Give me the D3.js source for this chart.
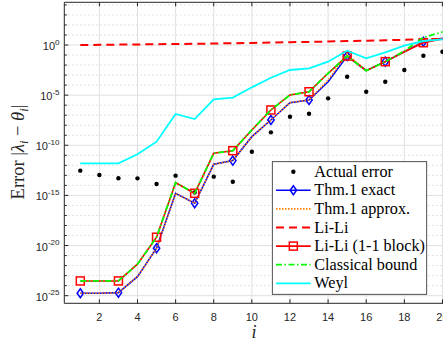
<!DOCTYPE html>
<html><head><meta charset="utf-8">
<script src="https://cdn.jsdelivr.net/npm/d3@7/dist/d3.min.js"></script>
<style>body{margin:0;background:#fff}svg{display:block}</style>
</head><body>
<svg id="c" width="443" height="343"></svg>
<script>
// x positions (index i)
const idx = d3.range(1, 21);
// log10 of error values
const actualErr = [-12.53,-12.96,-13.29,-13.3,-13.86,-13.03,-14.7,-13.13,-13.63,-10.64,-8.71,-7.15,-6.85,-5.32,-3.16,-4.66,-3.66,-2.49,-1.07,-0.67];
const thmExact = [-24.76,-24.76,-24.7,-23.1,-20.27,-14.79,-15.78,-11.9,-11.53,-9.14,-7.48,-5.75,-5.48,-3.66,-1.1,-2.56,-1.66,-0.67,0.33,0.66];
const thmApprox = [-24.76,-24.76,-24.7,-23.1,-20.27,-14.79,-15.78,-11.9,-11.53,-9.14,-7.48,-5.75,-5.48,-3.5,-0.9,-2.56,-1.66,-0.67,0.33,0.66];
const liLi = [0,0.02,0.04,0.06,0.08,0.1,0.12,0.15,0.18,0.21,0.24,0.28,0.31,0.35,0.39,0.43,0.47,0.52,0.57,0.62];
const liLi11 = [-23.53,-23.53,-23.53,-21.86,-19.17,-13.73,-14.79,-10.8,-10.54,-8.47,-6.48,-4.98,-4.66,-2.82,-1.1,-2.56,-1.66,-0.67,0.23,0.6];
const classical = [-23.53,-23.53,-23.53,-21.86,-19.17,-13.73,-14.79,-10.8,-10.54,-8.47,-6.48,-4.98,-4.66,-2.82,-1.1,-2.56,-1.66,-0.6,0.75,1.3];
const weyl = [-11.8,-11.8,-11.8,-10.9,-9.64,-6.88,-7.38,-5.41,-5.25,-4.22,-3.26,-2.49,-2.33,-1.66,-0.57,-1.33,-0.73,-0.07,0.4,0.57];
const xTicks = [2,4,6,8,10,12,14,16,18,20];
const yMajorExp = [-25,-20,-15,-10,-5,0];
const yMinorExp = d3.range(-25, 5);
const legendLabels = ["Actual error","Thm.1 exact","Thm.1 approx.","Li-Li","Li-Li (1-1 block)","Classical bound","Weyl"];

const svg = d3.select("#c");
const L = 64.3, R = 446, T = 2.3, B = 303.3;
const x = d3.scaleLinear().domain([0.16, 0.16 + (R - L) / 19.06]).range([L, R]);
const y = d3.scaleLog().domain([Math.pow(10, -25.76), Math.pow(10, 4.26)]).range([B, T]);
const axisCol = "#262626";

svg.append("defs").append("clipPath").attr("id","clip")
  .append("rect").attr("x",L).attr("y",T).attr("width",R-L).attr("height",B-T);

// grids
const g = svg.append("g");
g.selectAll(".ymin").data(yMinorExp.filter(e => e % 5 !== 0)).join("line")
  .attr("x1",L).attr("x2",R).attr("y1",e=>y(Math.pow(10,e))).attr("y2",e=>y(Math.pow(10,e)))
  .attr("stroke","#c8c8c8").attr("stroke-width",1).attr("stroke-dasharray","1,3");
g.selectAll(".ymaj").data(yMajorExp).join("line")
  .attr("x1",L).attr("x2",R).attr("y1",e=>y(Math.pow(10,e))).attr("y2",e=>y(Math.pow(10,e)))
  .attr("stroke","#e0e0e0").attr("stroke-width",1);
g.selectAll(".xg").data(xTicks).join("line")
  .attr("x1",d=>x(d)).attr("x2",d=>x(d)).attr("y1",T).attr("y2",B)
  .attr("stroke","#e0e0e0").attr("stroke-width",1);

// data
const plot = svg.append("g").attr("clip-path","url(#clip)");
const line = d3.line().x((d,i)=>x(idx[i])).y(d=>y(Math.pow(10,d)));

plot.selectAll(".dot").data(actualErr).join("circle")
  .attr("cx",(d,i)=>x(idx[i])).attr("cy",d=>y(Math.pow(10,d))).attr("r",2.2).attr("fill","#000");

plot.append("path").attr("d",line(thmExact)).attr("fill","none").attr("stroke","#0000ff").attr("stroke-width",1.6);
plot.selectAll(".dia").data(thmExact.map((v,i)=>[idx[i],v]).filter(d=>d[0]%2===1)).join("path")
  .attr("transform",d=>`translate(${x(d[0])},${y(Math.pow(10,d[1]))})`)
  .attr("d","M0,-4.5L3.2,0L0,4.5L-3.2,0Z").attr("fill","none").attr("stroke","#0000ff").attr("stroke-width",1.5);
plot.append("path").attr("d",line(thmApprox)).attr("fill","none").attr("stroke","#ff8000").attr("stroke-width",1.6).attr("stroke-dasharray","1.5,1.5");
plot.append("path").attr("d",line(liLi)).attr("fill","none").attr("stroke","#ff0000").attr("stroke-width",2).attr("stroke-dasharray","8,5");
plot.append("path").attr("d",line(liLi11)).attr("fill","none").attr("stroke","#ff0000").attr("stroke-width",1.6);
plot.selectAll(".sq").data(liLi11.map((v,i)=>[idx[i],v]).filter(d=>d[0]%2===1)).join("rect")
  .attr("x",d=>x(d[0])-4).attr("y",d=>y(Math.pow(10,d[1]))-4).attr("width",8).attr("height",8)
  .attr("fill","none").attr("stroke","#ff0000").attr("stroke-width",1.5);
plot.append("path").attr("d",line(classical)).attr("fill","none").attr("stroke","#00ff00").attr("stroke-width",1.8).attr("stroke-dasharray","6,2.5,1.5,2.5");
plot.append("path").attr("d",line(weyl)).attr("fill","none").attr("stroke","#00ffff").attr("stroke-width",1.8);

// axes box
const ax = svg.append("g");
ax.append("line").attr("x1",L).attr("x2",R).attr("y1",B).attr("y2",B).attr("stroke",axisCol);
ax.append("line").attr("x1",L).attr("x2",R).attr("y1",T).attr("y2",T).attr("stroke",axisCol);
ax.append("line").attr("x1",L).attr("x2",L).attr("y1",T).attr("y2",B).attr("stroke",axisCol);
// x ticks
xTicks.forEach(t=>{
  ax.append("line").attr("x1",x(t)).attr("x2",x(t)).attr("y1",B).attr("y2",B-4).attr("stroke",axisCol);
  ax.append("line").attr("x1",x(t)).attr("x2",x(t)).attr("y1",T).attr("y2",T+4).attr("stroke",axisCol);
  ax.append("text").attr("x",x(t)).attr("y",320.7).attr("text-anchor","middle")
    .attr("font-family","Liberation Sans, Arial, sans-serif").attr("font-size",11).attr("fill",axisCol).text(t);
});
// y ticks
yMinorExp.forEach(e=>{
  const yy = y(Math.pow(10,e));
  const len = e % 5 === 0 ? 4 : 2.5;
  ax.append("line").attr("x1",L).attr("x2",L+len).attr("y1",yy).attr("y2",yy).attr("stroke",axisCol);
});
yMajorExp.forEach(e=>{
  const yy = y(Math.pow(10,e));
  const t = ax.append("text").attr("x",59.5).attr("y",yy+5).attr("text-anchor","end")
    .attr("font-family","Liberation Sans, Arial, sans-serif").attr("font-size",11).attr("fill",axisCol);
  t.append("tspan").text("10");
  t.append("tspan").attr("dy",-5.5).attr("font-size",8).text(String(e));
});

// labels
const serif = "Liberation Serif, Times New Roman, serif";
const yl = svg.append("text").attr("transform","translate(24,152) rotate(-90)").attr("text-anchor","middle")
  .attr("font-family",serif).attr("font-size",18.5).attr("fill",axisCol);
yl.append("tspan").text("Error |");
yl.append("tspan").attr("font-style","italic").text("λ");
yl.append("tspan").attr("font-style","italic").attr("font-size",12.5).attr("dy",3.5).text("i");
yl.append("tspan").attr("dy",-3.5).text(" − ");
yl.append("tspan").attr("font-style","italic").text("θ");
yl.append("tspan").attr("font-style","italic").attr("font-size",12.5).attr("dy",3.5).text("i");
yl.append("tspan").attr("dy",-3.5).text("|");
svg.append("text").attr("x",254).attr("y",338).attr("text-anchor","middle")
  .attr("font-family",serif).attr("font-style","italic").attr("font-size",18).attr("fill",axisCol).text("i");

// legend
const lg = svg.append("g");
lg.append("rect").attr("x",272.3).attr("y",161.7).attr("width",154.4).attr("height",132.6)
  .attr("fill","#fff").attr("stroke",axisCol).attr("stroke-width",0.8);
const rowY = k => 171.7 + k*18.6;
const x1 = 276, x2 = 310.7, xm = (x1+x2)/2;
lg.append("circle").attr("cx",xm).attr("cy",rowY(0)).attr("r",2.2).attr("fill","#000");
lg.append("line").attr("x1",x1).attr("x2",x2).attr("y1",rowY(1)).attr("y2",rowY(1)).attr("stroke","#0000ff").attr("stroke-width",1.6);
lg.append("path").attr("transform",`translate(${xm},${rowY(1)})`).attr("d","M0,-4.5L3.2,0L0,4.5L-3.2,0Z").attr("fill","none").attr("stroke","#0000ff").attr("stroke-width",1.5);
lg.append("line").attr("x1",x1).attr("x2",x2).attr("y1",rowY(2)).attr("y2",rowY(2)).attr("stroke","#ff8000").attr("stroke-width",1.6).attr("stroke-dasharray","1.5,1.5");
lg.append("line").attr("x1",x1).attr("x2",x2).attr("y1",rowY(3)).attr("y2",rowY(3)).attr("stroke","#ff0000").attr("stroke-width",2).attr("stroke-dasharray","8,5");
lg.append("line").attr("x1",x1).attr("x2",x2).attr("y1",rowY(4)).attr("y2",rowY(4)).attr("stroke","#ff0000").attr("stroke-width",1.6);
lg.append("rect").attr("x",xm-4).attr("y",rowY(4)-4).attr("width",8).attr("height",8).attr("fill","none").attr("stroke","#ff0000").attr("stroke-width",1.5);
lg.append("line").attr("x1",x1).attr("x2",x2).attr("y1",rowY(5)).attr("y2",rowY(5)).attr("stroke","#00ff00").attr("stroke-width",1.8).attr("stroke-dasharray","6,2.5,1.5,2.5");
lg.append("line").attr("x1",x1).attr("x2",x2).attr("y1",rowY(6)).attr("y2",rowY(6)).attr("stroke","#00ffff").attr("stroke-width",1.8);
legendLabels.forEach((s,k)=>{
  lg.append("text").attr("x",314.3).attr("y",rowY(k)+5).attr("font-family",serif).attr("font-size",16.2)
    .attr("fill","#000").text(s);
});
</script>
</body></html>
